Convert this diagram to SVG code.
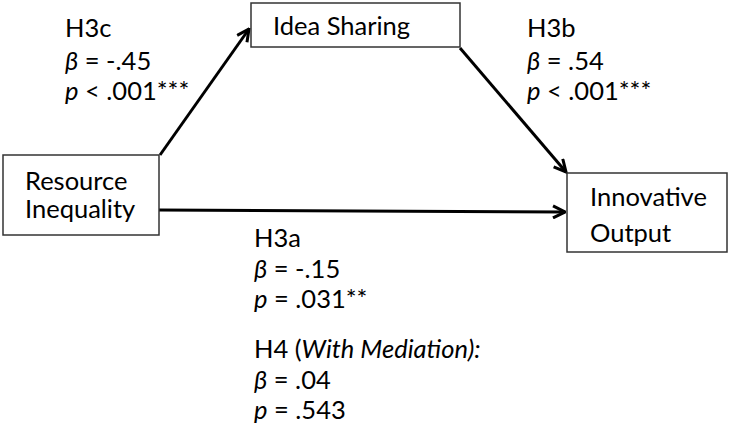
<svg xmlns="http://www.w3.org/2000/svg" width="733" height="434" viewBox="0 0 733 434">
<style>
.box{fill:#fff;stroke:#333;stroke-width:1.5}
.t{font-family:Lato,"Liberation Sans",sans-serif;font-size:25.5px;fill:#000}
.i{font-style:italic}
.c{fill:none;stroke:#000;stroke-width:3}
</style>
<defs>
<marker id="ah" viewBox="0 0 10 10" refX="9" refY="5" markerWidth="5" markerHeight="5" orient="auto" markerUnits="strokeWidth">
<path d="M1,1 L9,5 L1,9" fill="none" stroke="#000" stroke-width="2"/>
</marker>
</defs>
<rect width="733" height="434" fill="#fff"/>
<g id="connectors">
<line class="c" x1="160" y1="155" x2="249" y2="29" marker-end="url(#ah)"/>
<line class="c" x1="460" y1="48" x2="566" y2="172" marker-end="url(#ah)"/>
<line class="c" x1="159" y1="210" x2="565" y2="212" marker-end="url(#ah)"/>
</g>
<g id="idea-sharing">
<rect class="box" x="251" y="3" width="209" height="44"/>
<text class="t" x="273" y="35">Idea Sharing</text>
</g>
<g id="resource-inequality">
<rect class="box" x="3" y="155" width="156" height="80"/>
<text class="t" x="25" y="190">Resource</text>
<text class="t" x="25" y="218">Inequality</text>
</g>
<g id="innovative-output">
<rect class="box" x="567" y="173" width="160" height="79"/>
<text class="t" x="590" y="206">Innovative</text>
<text class="t" x="590" y="242">Output</text>
</g>
<g id="label-h3c">
<text class="t" x="65" y="37">H3c</text>
<text class="t" x="65" y="70"><tspan class="i">β</tspan> = -.45</text>
<text class="t" x="65" y="100"><tspan class="i">p</tspan> &lt; .001***</text>
</g>
<g id="label-h3b">
<text class="t" x="527" y="37">H3b</text>
<text class="t" x="527" y="70"><tspan class="i">β</tspan> = .54</text>
<text class="t" x="527" y="100"><tspan class="i">p</tspan> &lt; .001***</text>
</g>
<g id="label-h3a">
<text class="t" x="254" y="247">H3a</text>
<text class="t" x="254" y="278"><tspan class="i">β</tspan> = -.15</text>
<text class="t" x="254" y="308"><tspan class="i">p</tspan> = .031**</text>
<text class="t" x="254" y="358">H4 (<tspan class="i">With Mediation):</tspan></text>
<text class="t" x="254" y="389"><tspan class="i">β</tspan> = .04</text>
<text class="t" x="254" y="419"><tspan class="i">p</tspan> = .543</text>
</g>
</svg>
